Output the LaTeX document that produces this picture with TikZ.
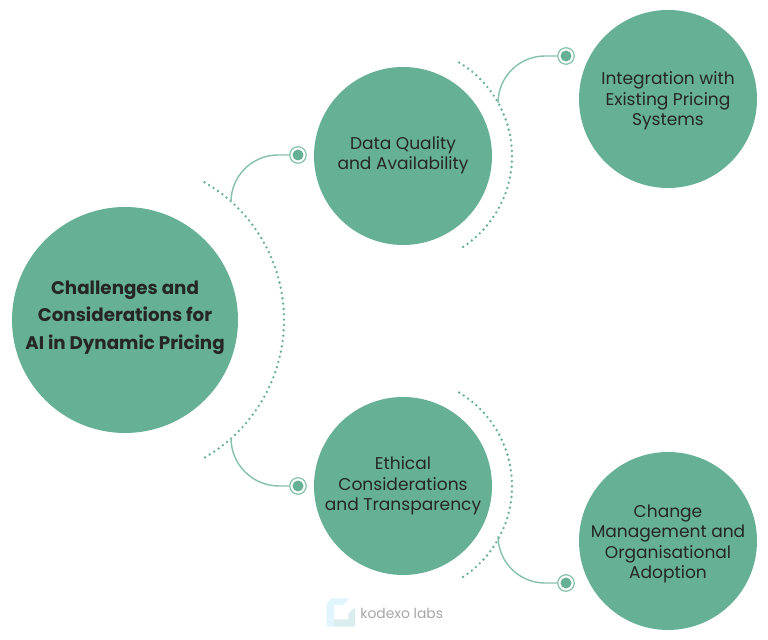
\documentclass[tikz,border=0pt]{standalone}
\usepackage{fontspec}
\setmainfont{Poppins}
\definecolor{leaf}{HTML}{66B096}
\definecolor{linkgreen}{HTML}{85C1AB}
\tikzset{
    topic/.style={circle, fill=leaf, minimum size=3.56cm, inner sep=0pt, align=center, font=\fontsize{9.7pt}{11.6pt}\selectfont, text=black!85},
    bigtopic/.style={topic, minimum size=4.52cm, font=\bfseries\fontsize{10.4pt}{15.7pt}\selectfont},
    endring/.style={circle, draw=linkgreen, line width=0.7pt, fill=white, minimum size=0.33cm, inner sep=0pt, path picture={\fill[leaf] (path picture bounding box.center) circle (0.11);}},
    arcdots/.style={leaf, line width=1.5pt, line cap=round, dash pattern=on 0pt off 3.05pt},
    link/.style={linkgreen, line width=0.8pt}
}
\begin{document}
\begin{tikzpicture}
        \useasboundingbox (0,0) rectangle (15.36,12.8);
        % The circles
        \node[bigtopic] (main) at (2.5,6.4) {Challenges and\\Considerations for\\AI in Dynamic Pricing\rule[-5.5pt]{0pt}{0pt}};
        \node[topic] (data) at (8.06,9.68) {Data Quality\\and Availability\rule[-3.6pt]{0pt}{0pt}};
        \node[topic] (ethics) at (8.06,3.08) {Ethical\\Considerations\\and Transparency};
        \node[topic] (integration) at (13.36,10.82) {\rule{0pt}{9.6pt}Integration with\\Existing Pricing\\Systems};
        \node[topic] (change) at (13.36,1.98) {\rule{0pt}{10.6pt}Change\\Management and\\Organisational\\Adoption};
        % Define the dotted arcs
        \draw[arcdots] (main.center) ++(60:3.18) arc[start angle=60, end angle=-60, radius=3.18];
        \draw[arcdots] (data.center) ++(59:2.18) arc[start angle=59, end angle=-59, radius=2.18];
        \draw[arcdots] (ethics.center) ++(59:2.18) arc[start angle=59, end angle=-59, radius=2.18];
        % End rings
        \node[endring] (dataring) at (5.96,9.7) {};
        \node[endring] (ethicsring) at (5.96,3.08) {};
        \node[endring] (integrationring) at (11.32,11.68) {};
        \node[endring] (changering) at (11.32,1.14) {};
        % Free ends of the links sit on the arcs
        \coordinate (mainup) at (4.62,8.76);
        \coordinate (maindown) at (4.62,4.04);
        \coordinate (dataup) at (9.96,10.74);
        \coordinate (ethicsdown) at (9.96,2.08);
        % Draw the links
        \draw[link] (mainup) arc[start angle=180, end angle=90, radius=0.94] -- (dataring);
        \draw[link] (maindown) arc[start angle=180, end angle=270, radius=0.96] -- (ethicsring);
        \draw[link] (dataup) arc[start angle=180, end angle=90, radius=0.94] -- (integrationring);
        \draw[link] (ethicsdown) arc[start angle=180, end angle=270, radius=0.94] -- (changering);
        % The mark at the bottom
        \fill[cyan!12] (6.533,0.267) -- (6.533,0.733) -- (6.633,0.833) -- (6.987,0.833) -- (6.867,0.7) -- (6.68,0.7) -- (6.68,0.267) -- cycle;
        \fill[teal!14] (6.68,0.267) -- (7.1,0.267) -- (7.1,0.653) -- (6.967,0.533) -- (6.967,0.413) -- (6.68,0.413) -- cycle;
        \node[text=gray!70, font=\fontsize{7.9pt}{9pt}\selectfont, anchor=west, inner sep=0pt] (mark) at (7.2,0.54) {kodexo labs};
    \end{tikzpicture}
\end{document}
